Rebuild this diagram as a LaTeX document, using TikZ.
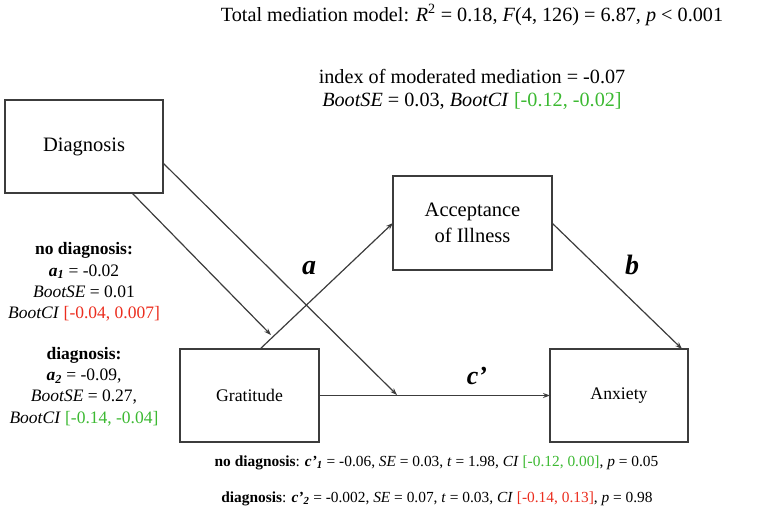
\documentclass[tikz,border=0pt]{standalone}
\usepackage{fontspec}
\setmainfont{Liberation Serif}
\usetikzlibrary{arrows.meta,calc}
\definecolor{cigreen}{RGB}{60,185,50}
\definecolor{cired}{RGB}{235,45,30}
\definecolor{linegray}{RGB}{60,60,60}
\begin{document}
\begin{tikzpicture}[x=1pt,y=-1pt,
  box/.style={draw=linegray,line width=1.3pt,inner sep=0pt,outer sep=0pt,align=center},
  conn/.style={draw=linegray,line width=1.2pt,-{Stealth[length=7pt,width=5pt]}},
  txt/.style={font=\fontsize{17.5}{21.2}\selectfont,align=center,inner sep=0pt},
  toptxt/.style={font=\fontsize{20.2}{23}\selectfont,align=center,inner sep=0pt},
  bottxt/.style={font=\fontsize{15.4}{18}\selectfont,align=center,inner sep=0pt},
  bigfont/.style={font=\fontsize{20.5}{26}\selectfont},
  midfont/.style={font=\fontsize{17.7}{21}\selectfont},
  pathlbl/.style={font=\fontsize{28}{28}\selectfont\bfseries\itshape,inner sep=0pt}]
\useasboundingbox (0,0) rectangle (767,518);
% boxes
\node[box,bigfont,minimum width=158pt,minimum height=93pt] (dia) at (84,146.5) {Diagnosis};
\node[box,bigfont,minimum width=159pt,minimum height=94pt] (acc) at (472.5,223) {Acceptance\\of Illness};
\node[box,midfont,minimum width=139pt,minimum height=93pt] (gra) at (249.5,395.5) {\raisebox{-1.5pt}{Gratitude}};
\node[box,midfont,minimum width=138pt,minimum height=93pt] (anx) at (619,395.5) {\raisebox{-1.5pt}{Anxiety}};
% connectors
\coordinate (ma) at (271,335);
\coordinate (mc) at (397,395);
\draw[conn] ($(gra.north west)!0.576!(gra.north east)$) -- (acc.west);
\draw[conn] (acc.east) -- ($(anx.north west)!0.957!(anx.north east)$);
\draw[conn] (gra.east) -- (anx.west);
\draw[conn] ($(dia.south west)!0.804!(dia.south east)$) -- (ma);
\draw[conn] ($(dia.north east)!0.677!(dia.south east)$) -- (mc);
% path labels
\node[pathlbl] (la) at (309,268) {a};
\node[pathlbl] (lb) at (632,265) {b};
\node[pathlbl,font=\fontsize{26}{26}\selectfont\bfseries\itshape] (lc) at (477,376) {c’};
% texts
\node[toptxt] (top) at (472,15) {Total mediation model: \textit{R}\textsuperscript{2} = 0.18, \textit{F}(4, 126) = 6.87, \textit{p} < 0.001};
\node[toptxt] (imm) at (472,89) {index of moderated mediation = -0.07\\\textit{BootSE} = 0.03, \textit{BootCI} \textcolor{cigreen}{[-0.12, -0.02]}};
\node[txt] (nodg) at (84,282) {\textbf{no diagnosis:}\\\textbf{\textit{a}}\textsubscript{\textbf{\textit{1}}} = -0.02\\\textit{BootSE} = 0.01\\\textit{BootCI} \textcolor{cired}{[-0.04, 0.007]}};
\node[txt] (dg) at (84,386.5) {\textbf{diagnosis:}\\\textbf{\textit{a}}\textsubscript{\textbf{\textit{2}}} = -0.09,\\\textit{BootSE} = 0.27,\\\textit{BootCI} \textcolor{cigreen}{[-0.14, -0.04]}};
\node[bottxt] (c1) at (436.5,462.5) {\textbf{no diagnosis}: \textbf{\textit{c’\textsubscript{1}}} = -0.06, \textit{SE} = 0.03, \textit{t} = 1.98, \textit{CI} \textcolor{cigreen}{[-0.12, 0.00]}, \textit{p} = 0.05};
\node[bottxt] (c2) at (437,498.5) {\textbf{diagnosis}: \textbf{\textit{c’\textsubscript{2}}} = -0.002, \textit{SE} = 0.07, \textit{t} = 0.03, \textit{CI} \textcolor{cired}{[-0.14, 0.13]}, \textit{p} = 0.98};
\end{tikzpicture}
\end{document}
